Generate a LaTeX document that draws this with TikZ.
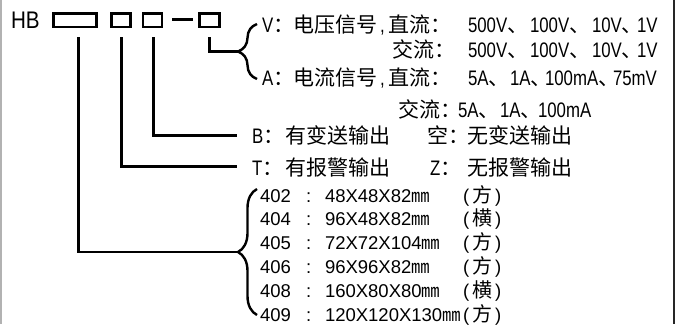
\documentclass[tikz,border=0pt]{standalone}
\usepackage{fontspec}
\setmainfont{Liberation Sans}[FakeStretch=0.8]
\newfontfamily\cjk{Noto Sans CJK SC}
\newfontfamily\plainsans{Liberation Sans}
\newfontfamily\hbfont{Liberation Sans}[FakeStretch=0.86]
\usetikzlibrary{decorations.pathreplacing}
\begin{document}
\begin{tikzpicture}[x=1pt,y=-1pt,
  txt/.style={anchor=base west,inner sep=0pt,outer sep=0pt,font=\fontsize{21}{21}\selectfont},
  lst/.style={anchor=base west,inner sep=0pt,outer sep=0pt,font=\plainsans\fontsize{18.5}{18.5}\selectfont},
  box/.style={draw,line width=2.6pt,inner sep=0pt,minimum height=13.4pt},
  conn/.style={line width=2.6pt},
  brc/.style={line width=2.4pt,decorate,decoration={brace,amplitude=19pt}}]
\useasboundingbox (0,0) rectangle (679,324);
% frame edges
\draw[line width=1.5pt,black!30] (0.75,0) -- (0.75,324);
\draw[line width=2pt,black!85] (673.5,0) -- (673.5,324);
% model code
\node[anchor=base west,inner sep=0pt,outer sep=0pt,font=\hbfont\fontsize{24}{24}\selectfont] (hb) at (11,28.5) {HB};
\node[box,minimum width=43pt] (b1) at (75.2,20.3) {};
\node[box,minimum width=19.4pt] (b2) at (121,20.3) {};
\node[box,minimum width=19pt] (b3) at (152.5,20.3) {};
\node[box,minimum width=19.8pt] (b4) at (209.5,20.3) {};
\coordinate (d1) at (172,19.5);
\coordinate (d2) at (193,19.5);
\draw[conn] (d1) -- (d2);
% connectors
\coordinate (s1) at (78.3,37.3);
\coordinate (s2) at (121.7,37.3);
\coordinate (s3) at (153.3,37.3);
\coordinate (s4) at (209.3,37.3);
\coordinate (t1) at (238,252);
\coordinate (t2) at (237,166.7);
\coordinate (t3) at (237,135.3);
\coordinate (t4) at (238,51.7);
\draw[conn] (s1) |- (t1);
\draw[conn] (s2) |- (t2);
\draw[conn] (s3) |- (t3);
\draw[conn] (s4) |- (t4);
% braces
\coordinate (v1) at (257,79);
\coordinate (v2) at (257,24);
\draw[brc] (v1) -- (v2);
\coordinate (w1) at (257,315);
\coordinate (w2) at (257,189);
\draw[brc] (w1) -- (w2);
% row 1
\node[txt] (r1a) at (262,32) {V{\cjk ：}};
\node[txt] (r1b) at (293,32) {{\cjk 电压信号}};
\node[txt] (r1c) at (380,32) {,};
\node[txt] (r1d) at (388,32) {{\cjk 直流：}};
\node[txt] (r1e) at (468,32) {500V{\cjk 、}};
\node[txt] (r1f) at (530,32) {100V{\cjk 、}};
\node[txt] (r1g) at (592,32) {10V{\cjk 、}};
\node[txt] (r1h) at (637,32) {1V};
% row 2
\node[txt] (r2d) at (392,57) {{\cjk 交流：}};
\node[txt] (r2e) at (468,57) {500V{\cjk 、}};
\node[txt] (r2f) at (530,57) {100V{\cjk 、}};
\node[txt] (r2g) at (592,57) {10V{\cjk 、}};
\node[txt] (r2h) at (637,57) {1V};
% row 3
\node[txt] (r3a) at (262,85) {A{\cjk ：}};
\node[txt] (r3b) at (293,85) {{\cjk 电流信号}};
\node[txt] (r3c) at (380,85) {,};
\node[txt] (r3d) at (388,85) {{\cjk 直流：}};
\node[txt] (r3e) at (468,85) {5A{\cjk 、}};
\node[txt] (r3f) at (510,85) {1A{\cjk 、}};
\node[txt] (r3g) at (545,85) {100mA{\cjk 、}};
\node[txt] (r3h) at (613,85) {75mV};
% row 4
\node[txt] (r4d) at (398,117) {{\cjk 交流：}};
\node[txt] (r4e) at (458,117) {5A{\cjk 、}};
\node[txt] (r4f) at (500,117) {1A{\cjk 、}};
\node[txt] (r4g) at (538,117) {100mA};
% B row
\node[txt] (ba) at (252,143) {B{\cjk ：}};
\node[txt] (bb) at (285,143) {{\cjk 有变送输出}};
\node[txt] (bc) at (427,143) {{\cjk 空：}};
\node[txt] (bd) at (467,143) {{\cjk 无变送输出}};
% T row
\node[txt] (ta) at (252,175) {T{\cjk ：}};
\node[txt] (tb) at (285,175) {{\cjk 有报警输出}};
\node[txt] (tc) at (430,175) {Z{\cjk ：}};
\node[txt] (td) at (467,175) {{\cjk 无报警输出}};
% size list
\foreach \i/\code/\dims/\shape in {0/402/48X48X82/方,1/404/96X48X82/横,2/405/72X72X104/方,3/406/96X96X82/方,4/408/160X80X80/横,5/409/120X120X130/方}{
  \pgfmathsetmacro{\yy}{202+23.9*\i}
  \node[lst] (c\i) at (260,\yy) {\code};
  \node[lst] (k\i) at (306,\yy) {:};
  \node[lst] (m\i) at (325,\yy) {\dims{\cjk ㎜}};
  \node[lst] (p\i) at (463,\yy) {(\kern3pt{\cjk\fontsize{20}{20}\selectfont \shape}\kern3pt)};
}
\end{tikzpicture}
\end{document}
